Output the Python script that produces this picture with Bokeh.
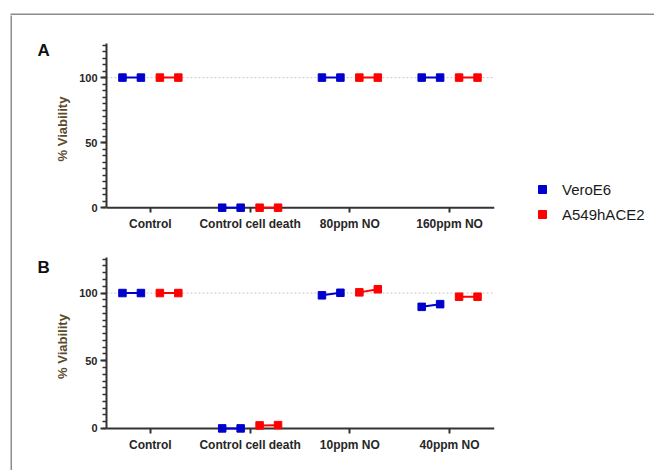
from bokeh.plotting import figure
from bokeh.models import (FixedTicker, Span, Label, Legend, LegendItem,
                          ColumnDataSource, LinearAxis, Range1d, Spacer)
from bokeh.layouts import column, row
from bokeh.embed import file_html
from bokeh.resources import INLINE

# ---------------- data ----------------
categories_A = ["Control", "Control cell death", "80ppm NO", "160ppm NO"]
categories_B = ["Control", "Control cell death", "10ppm NO", "40ppm NO"]
series_names = ["VeroE6", "A549hACE2"]

vero_A_rep1 = [100, 0, 100, 100]
vero_A_rep2 = [100, 0, 100, 100]
a549_A_rep1 = [100, 0, 100, 100]
a549_A_rep2 = [100, 0, 100, 100]

vero_B_rep1 = [100, 0, 98.3, 89.8]
vero_B_rep2 = [100, 0, 100.2, 91.8]
a549_B_rep1 = [100, 2.2, 100.5, 97.3]
a549_B_rep2 = [100, 2.4, 102.8, 97.3]

y_major_ticks = [0, 50, 100]
y_minor_step = 5
y_axis_max = 126
reference_level = 100
zero_level = 0
panel_letters = ["A", "B"]
y_axis_label = "% Viability"

# ---------------- style ----------------
BLUE = "#0000cc"
RED = "#ff0000"
GRAY = "#8c8c8c"
FONT = "Liberation Sans"
AXIS_COL = "#333333"
X0, X1 = 0.56, 4.45
Y0, Y1 = -6, 127
OFFS = {"VeroE6": (-0.28, -0.095), "A549hACE2": (0.095, 0.28)}
COLORS = {"VeroE6": BLUE, "A549hACE2": RED}

TOP = 15          # page y where the panels start
H_A, H_B = 225, 230
MTOP_A, MBOT_A = 27, 25
MTOP_B, MBOT_B = 16, 34


def blank_fig(w, h, **kw):
    f = figure(width=w, height=h, output_backend="svg", toolbar_location=None,
               title_location=None, x_axis_type=None, y_axis_type=None,
               **kw)
    f.outline_line_color = None
    f.grid.visible = False
    return f


def vbar(w, h):
    f = blank_fig(w, h, min_border=0)
    f.background_fill_color = GRAY
    f.border_fill_color = GRAY
    return f


def header(w, h, line_h):
    f = blank_fig(w, h, min_border=0, min_border_top=h - line_h)
    f.background_fill_color = GRAY
    f.border_fill_color = "white"
    return f


def letter_fig(letter, w, h, frame_top, frame_bottom, lx, ly):
    # inside a row the frame lines up with the panel's frame, so the
    # ranges are expressed in page pixels of that frame
    f = blank_fig(w, h, min_border=0,
                  x_range=Range1d(0, w), y_range=Range1d(frame_bottom, frame_top))
    f.background_fill_color = "white"
    f.border_fill_color = "white"
    f.add_layout(Label(x=lx, y=ly, text=letter, text_font=FONT,
                       text_font_size="17px", text_font_style="bold",
                       text_color="#111111", text_baseline="middle",
                       text_align="left"))
    return f


def series_sources(cats, r1, r2, name):
    o1, o2 = OFFS[name]
    xs1 = [i + 1 + o1 for i in range(len(cats))]
    xs2 = [i + 1 + o2 for i in range(len(cats))]
    seg = ColumnDataSource(dict(x0=xs1, y0=r1, x1=xs2, y1=r2))
    pts = ColumnDataSource(dict(x=xs1 + xs2, y=list(r1) + list(r2)))
    return seg, pts


def make_panel(cats, vrep1, vrep2, arep1, arep2, height, mtop, mbot,
               label_standoff):
    p = figure(width=452, height=height, x_range=(X0, X1), y_range=(Y0, Y1),
               output_backend="svg", toolbar_location=None,
               title_location=None, x_axis_type=None,
               min_border_left=52, min_border_right=10,
               min_border_top=mtop, min_border_bottom=mbot)
    p.outline_line_color = None
    p.grid.visible = False
    p.background_fill_color = "white"
    p.border_fill_color = "white"

    p.add_layout(Span(location=reference_level, dimension="width",
                      line_color="#c8c8c8", line_dash="2 2", line_width=1,
                      level="underlay"))
    p.add_layout(Span(location=zero_level, dimension="width",
                      line_color=AXIS_COL, line_width=2, level="underlay"))

    for name, r1, r2 in (("VeroE6", vrep1, vrep2),
                         ("A549hACE2", arep1, arep2)):
        col = COLORS[name]
        seg, pts = series_sources(cats, r1, r2, name)
        p.segment("x0", "y0", "x1", "y1", source=seg, line_color=col,
                  line_width=2)
        p.scatter("x", "y", source=pts, marker="square", size=7.5,
                  fill_color=col, line_color=col)

    ticker = FixedTicker(ticks=[i + 1 for i in range(len(cats))])
    xa = LinearAxis(ticker=ticker)
    xa.major_label_overrides = {i + 1: c for i, c in enumerate(cats)}
    xa.axis_line_color = None
    xa.minor_tick_line_color = None
    xa.major_tick_in = 8
    xa.major_tick_out = -3
    xa.major_tick_line_color = AXIS_COL
    xa.major_tick_line_width = 2
    xa.major_label_standoff = label_standoff
    xa.major_label_text_font = FONT
    xa.major_label_text_font_style = "bold"
    xa.major_label_text_font_size = "12px"
    xa.major_label_text_color = "#262626"
    p.add_layout(xa, "below")

    ya = p.yaxis[0]
    ya.ticker = FixedTicker(ticks=y_major_ticks,
                            minor_ticks=list(range(0, y_axis_max, y_minor_step)))
    ya.bounds = (0, y_axis_max)
    ya.major_tick_in = 0
    ya.major_tick_out = 6
    ya.minor_tick_in = 0
    ya.minor_tick_out = 4
    ya.major_label_standoff = 3
    ya.axis_label = y_axis_label
    ya.axis_label_standoff = 6
    ya.axis_label_text_font = FONT
    ya.axis_label_text_font_size = "13px"
    ya.axis_label_text_font_style = "bold"
    ya.axis_label_text_color = "#5c4a2c"
    ya.axis_line_color = AXIS_COL
    ya.axis_line_width = 2
    ya.major_tick_line_color = AXIS_COL
    ya.major_tick_line_width = 2
    ya.minor_tick_line_color = AXIS_COL
    ya.minor_tick_line_width = 1.5
    ya.major_label_text_font = FONT
    ya.major_label_text_font_style = "bold"
    ya.major_label_text_font_size = "11px"
    ya.major_label_text_color = "#262626"
    return p


def legend_fig(w, h, loc, cats, reps):
    # renderers hold the panel-A series; the ranges keep the marks out of
    # view so only the legend shows in this strip
    f = blank_fig(w, h, min_border=0,
                  x_range=Range1d(-20, -19), y_range=Range1d(-20, -19))
    f.background_fill_color = "white"
    f.border_fill_color = "white"
    items = []
    for name in series_names:
        r1, r2 = reps[name]
        _, pts = series_sources(cats, r1, r2, name)
        r = f.scatter("x", "y", source=pts, marker="square", size=8,
                      fill_color=COLORS[name], line_color=COLORS[name])
        items.append(LegendItem(label=name, renderers=[r]))
    leg = Legend(items=items, location=loc)
    leg.label_text_font = FONT
    leg.label_text_font_size = "15px"
    leg.label_text_color = "#1a1a1a"
    leg.label_standoff = 10
    leg.glyph_width = 20
    leg.glyph_height = 20
    leg.spacing = 5
    leg.padding = 10
    leg.border_line_color = None
    leg.background_fill_alpha = 0
    f.add_layout(leg, "center")
    return f


pA = make_panel(categories_A, vero_A_rep1, vero_A_rep2, a549_A_rep1,
                a549_A_rep2, H_A, MTOP_A, MBOT_A, 1)
pB = make_panel(categories_B, vero_B_rep1, vero_B_rep2, a549_B_rep1,
                a549_B_rep2, H_B, MTOP_B, MBOT_B, 1)

fa_top = TOP + MTOP_A
fa_bot = TOP + H_A - MBOT_A
fb_top = TOP + H_A + MTOP_B
fb_bot = TOP + H_A + H_B - MBOT_B

letA = letter_fig(panel_letters[0], 40, H_A, fa_top, fa_bot, 25, 50)
letB = letter_fig(panel_letters[1], 40, H_B, fb_top, fb_bot, 25, 267)

panels = column(row(letA, pA, spacing=0), row(letB, pB, spacing=0),
                spacing=0)
legA = legend_fig(150, H_A + H_B, (28, 246), categories_A,
                  {"VeroE6": (vero_A_rep1, vero_A_rep2),
                   "A549hACE2": (a549_A_rep1, a549_A_rep2)})
content = row(panels, column(legA, spacing=0), spacing=0)

layout = column(
    row(Spacer(width=10, height=TOP), header(644, TOP, 2), spacing=0),
    row(Spacer(width=10, height=H_A + H_B), vbar(2, H_A + H_B), content,
        spacing=0),
    spacing=0)

open("out.html", "w").write(file_html(layout, INLINE))
